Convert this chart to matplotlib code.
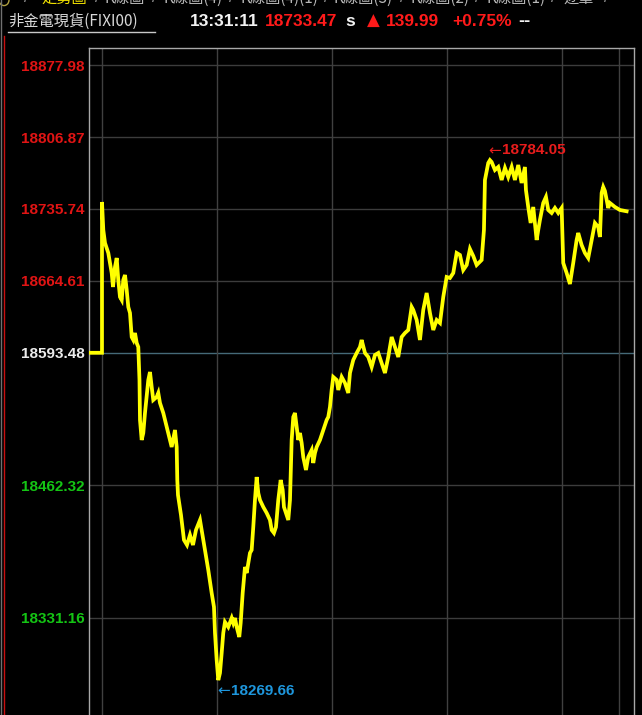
import matplotlib
matplotlib.use("Agg")
import matplotlib.pyplot as plt
from matplotlib.lines import Line2D

# ---------------- data ----------------
prev_close = 18593.48
# minutes after 09:00
minutes = [0.0, 0.68, 1.57, 3.29, 5.06, 5.74, 6.78, 7.67, 8.50, 9.39, 10.28, 11.11, 12.0, 12.89,
           13.72, 14.61, 15.50, 16.33, 17.22, 18.11, 18.94, 19.56, 19.83, 20.71, 21.55, 22.43,
           24.16, 25.04, 25.93, 26.76, 28.54, 29.37, 30.26, 31.98, 33.76, 35.46, 36.36, 38.09,
           38.97, 39.29, 39.65, 41.22, 42.78, 44.35, 45.91, 47.48, 49.04, 51.13, 52.85, 54.62,
           55.46, 57.23, 58.43, 58.96, 59.84, 60.68, 61.56, 62.45, 63.28, 64.17, 65.89, 67.67,
           68.50, 69.39, 70.28, 71.63, 72.36, 73.41, 74.61, 75.49, 76.33, 77.22, 78.10, 78.94,
           79.82, 80.71, 81.55, 82.43, 84.16, 85.93, 87.65, 88.54, 89.74, 90.78, 91.98, 93.23,
           94.28, 94.95, 96.00, 97.20, 98.09, 98.97, 99.81, 100.69, 101.58, 102.42, 103.30,
           104.19, 105.02, 106.43, 107.63, 109.41, 110.24, 111.13, 112.02, 113.74, 115.46,
           117.23, 118.07, 118.95, 119.84, 120.68, 122.45, 123.29, 125.06, 126.78, 128.50,
           129.39, 131.11, 132.89, 134.61, 135.49, 137.22, 138.94, 140.71, 142.43, 144.16,
           145.93, 147.65, 149.37, 151.15, 152.87, 154.59, 156.36, 158.09, 159.81, 161.58,
           162.42, 164.19, 165.91, 167.63, 169.41, 171.13, 172.85, 174.63, 176.35, 178.07,
           179.84, 181.56, 183.29, 185.06, 186.78, 188.50, 190.28, 192.00, 193.72, 195.49,
           198.10, 199.30, 199.82, 201.55, 202.43, 203.30, 205.04, 206.76, 208.54, 210.26,
           211.98, 213.76, 215.47, 217.20, 218.97, 220.69, 221.21, 222.41, 223.67, 225.02,
           226.80, 227.63, 228.52, 230.24, 231.65, 232.85, 234.62, 236.34, 238.07, 239.84,
           240.68, 242.45, 244.17, 245.89, 247.66, 248.50, 250.27, 251.99, 253.71, 255.49,
           257.21, 258.93, 259.82, 260.71, 261.54, 262.43, 264.15, 265.04, 267.65, 270.26,
           273.75]
prices = [18742.67, 18714.97, 18702.11, 18692.21, 18672.43, 18658.58, 18678.36, 18687.27,
          18665.50, 18648.68, 18645.71, 18665.50, 18670.45, 18655.61, 18638.79, 18632.85,
          18609.11, 18606.14, 18613.07, 18603.17, 18599.22, 18566.57, 18527.00, 18507.21,
          18514.13, 18533.92, 18566.57, 18574.48, 18559.64, 18546.78, 18549.75, 18553.71,
          18543.81, 18533.92, 18520.07, 18507.21, 18500.28, 18517.10, 18500.28, 18467.64,
          18452.80, 18433.01, 18408.28, 18403.33, 18413.22, 18403.33, 18418.17, 18428.06,
          18408.28, 18388.49, 18378.60, 18355.84, 18341.99, 18316.27, 18289.56, 18269.66,
          18276.70, 18296.48, 18316.27, 18327.15, 18322.21, 18331.11, 18326.16, 18331.11,
          18322.21, 18312.31, 18326.16, 18355.84, 18381.57, 18375.63, 18385.52, 18395.42,
          18398.38, 18421.14, 18447.85, 18470.60, 18454.78, 18447.85, 18440.92, 18434.99,
          18428.06, 18418.17, 18415.20, 18421.14, 18447.85, 18467.64, 18457.74, 18440.92,
          18434.99, 18428.06, 18447.85, 18507.21, 18529.96, 18533.92, 18520.07, 18507.21,
          18514.13, 18504.24, 18490.39, 18477.53, 18490.39, 18497.32, 18484.46, 18494.35,
          18500.28, 18507.21, 18517.10, 18527.00, 18529.96, 18539.86, 18556.68, 18569.54,
          18566.57, 18556.68, 18569.54, 18563.60, 18553.71, 18573.49, 18586.35, 18593.28,
          18599.22, 18606.14, 18593.28, 18589.32, 18579.43, 18591.30, 18593.28, 18583.39,
          18573.49, 18589.32, 18609.11, 18599.22, 18589.32, 18609.11, 18613.07, 18616.03,
          18638.79, 18635.82, 18625.93, 18606.14, 18635.82, 18652.64, 18632.85, 18616.03,
          18625.93, 18622.96, 18648.68, 18668.47, 18667.48, 18672.43, 18692.21, 18690.23,
          18675.39, 18680.34, 18696.17, 18689.24, 18680.34, 18685.29, 18714.97, 18764.43,
          18781.25, 18784.05, 18782.24, 18774.33, 18777.29, 18764.43, 18776.30, 18767.40,
          18777.29, 18764.43, 18779.27, 18761.46, 18777.29, 18754.54, 18737.72, 18721.89,
          18737.72, 18705.07, 18714.97, 18724.86, 18741.68, 18747.61, 18734.75, 18731.78,
          18736.73, 18731.78, 18736.73, 18682.32, 18672.43, 18661.54, 18682.32, 18705.07,
          18712.00, 18700.13, 18692.21, 18687.27, 18705.07, 18721.89, 18717.93, 18708.04,
          18751.57, 18757.51, 18753.55, 18736.73, 18741.68, 18737.72, 18734.75, 18733.47]
ytick_values = [18877.98, 18806.87, 18735.74, 18664.61, 18593.48, 18462.32, 18331.16]
hour_grid_minutes = [0, 60, 120, 180, 240, 270]

tabs = ["走勢圖", "K線圖", "K線圖(4)", "K線圖(4)(1)", "K線圖(3)", "K線圖(2)", "K線圖(1)", "逐筆"]
title_name = "非金電現貨(FIXI00)"
quote_time = "13:31:11"
last_price = "18733.47"
change = "139.99"
change_pct = "+0.75%"

# ---------------- figure ----------------
W, H = 642, 715
fig = plt.figure(figsize=(W / 100, H / 100), dpi=100, facecolor="black")


def fx(px):
    return px / W


def fy(py):
    return 1 - py / H


LAT = ["Liberation Sans", "DejaVu Sans"]
CJK = ["Noto Sans CJK TC", "DejaVu Sans"]

ax = fig.add_axes([89 / W, 0, 545 / W, 667 / H])
ax.set_facecolor("black")
ax.set_xlim(-6.78, 277.6)
ax.set_ylim(18235.15, 18895.0)

for v in ytick_values:
    col = "#456a78" if v == prev_close else "#3c3c3c"
    ax.axhline(v, color=col, lw=1, zorder=1)
for t in hour_grid_minutes:
    ax.axvline(t, color="#404040", lw=1, zorder=1)

for s in ["left", "top", "right"]:
    ax.spines[s].set_color("#a8a8a8")
    ax.spines[s].set_linewidth(1)
ax.spines["bottom"].set_visible(False)

x0 = ax.get_xlim()[0]
xs = [x0, minutes[0]] + minutes
ys = [prev_close, prev_close] + prices
ax.plot(xs, ys, color="#ffff00", lw=2.7, zorder=3, solid_joinstyle="miter")

ax.set_xticks([])
ax.set_yticks(ytick_values)
labels = ax.set_yticklabels([f"{v:.2f}" for v in ytick_values],
                            fontsize=11, fontweight="bold", family=LAT)
for v, lab in zip(ytick_values, labels):
    if v > prev_close:
        lab.set_color("#e01414")
    elif v < prev_close:
        lab.set_color("#14c414")
    else:
        lab.set_color("#ececec")
ax.tick_params(axis="y", length=0, pad=3)

# extremes: arrow glyph + value
imax = max(range(len(prices)), key=lambda i: prices[i])
imin = min(range(len(prices)), key=lambda i: prices[i])
for idx, dy, col in [(imax, 7, "#e81c1c"), (imin, -7.5, "#1e96dc")]:
    ax.annotate("←", xy=(minutes[idx], prices[idx]), xytext=(-1, dy),
                textcoords="offset points", ha="left", va="center", color=col,
                fontsize=11, family=["DejaVu Sans"], zorder=5)
    ax.annotate(f"{prices[idx]:.2f}", xy=(minutes[idx], prices[idx]), xytext=(9, dy),
                textcoords="offset points", ha="left", va="center", color=col,
                fontsize=11, fontweight="bold", family=LAT, zorder=5)

# ---------------- header ----------------
fig.add_artist(Line2D([fx(0.5), fx(0.5)], [0, 1], color="#707070", lw=1))
fig.add_artist(Line2D([fx(4), fx(4)], [0, fy(36)], color="#c81010", lw=1))

tab_x = [41, 104, 164, 240, 334, 410, 487, 563]
sep_x = [24, 95, 152, 229, 324, 400, 475, 551, 604]
for i, (name, x) in enumerate(zip(tabs, tab_x)):
    fig.text(fx(x), fy(-2), name, family=CJK, fontsize=11,
             color="#f0e000" if i == 0 else "#b8b8b8", ha="left", va="center")
for x in sep_x:
    fig.text(fx(x), fy(-2), "/", family=LAT, fontsize=12, color="#909090",
             ha="left", va="center")
circ = plt.Circle((fx(4), fy(0)), 5 / W, transform=fig.transFigure, fill=False,
                  ec="#b0a040", lw=1)
fig.add_artist(circ)

fig.text(fx(8), fy(21), title_name, family=CJK, fontsize=11, color="#d8d8d8",
         ha="left", va="center")
fig.add_artist(Line2D([fx(8), fx(155)], [fy(32), fy(32)], color="#c8c8c8", lw=1))

hdr = dict(fontsize=12.5, fontweight="bold", family=LAT, va="center", ha="left")
fig.text(fx(190), fy(21), quote_time, color="#f2f2f2", **hdr)
fig.text(fx(265), fy(21), last_price, color="#ff1a1a", **hdr)
fig.text(fx(345), fy(21), "s", color="#f2f2f2", **hdr)
fig.text(fx(367), fy(21), "▲", color="#ff1a1a", **{**hdr, "family": ["DejaVu Sans"], "fontsize": 12})
fig.text(fx(386), fy(21), change, color="#ff1a1a", **hdr)
fig.text(fx(452), fy(21), change_pct, color="#ff1a1a", **hdr)
fig.text(fx(518), fy(21), "--", color="#f2f2f2", **{**hdr, "fontsize": 13})

fig.savefig("out.png", dpi=100, facecolor="black")
